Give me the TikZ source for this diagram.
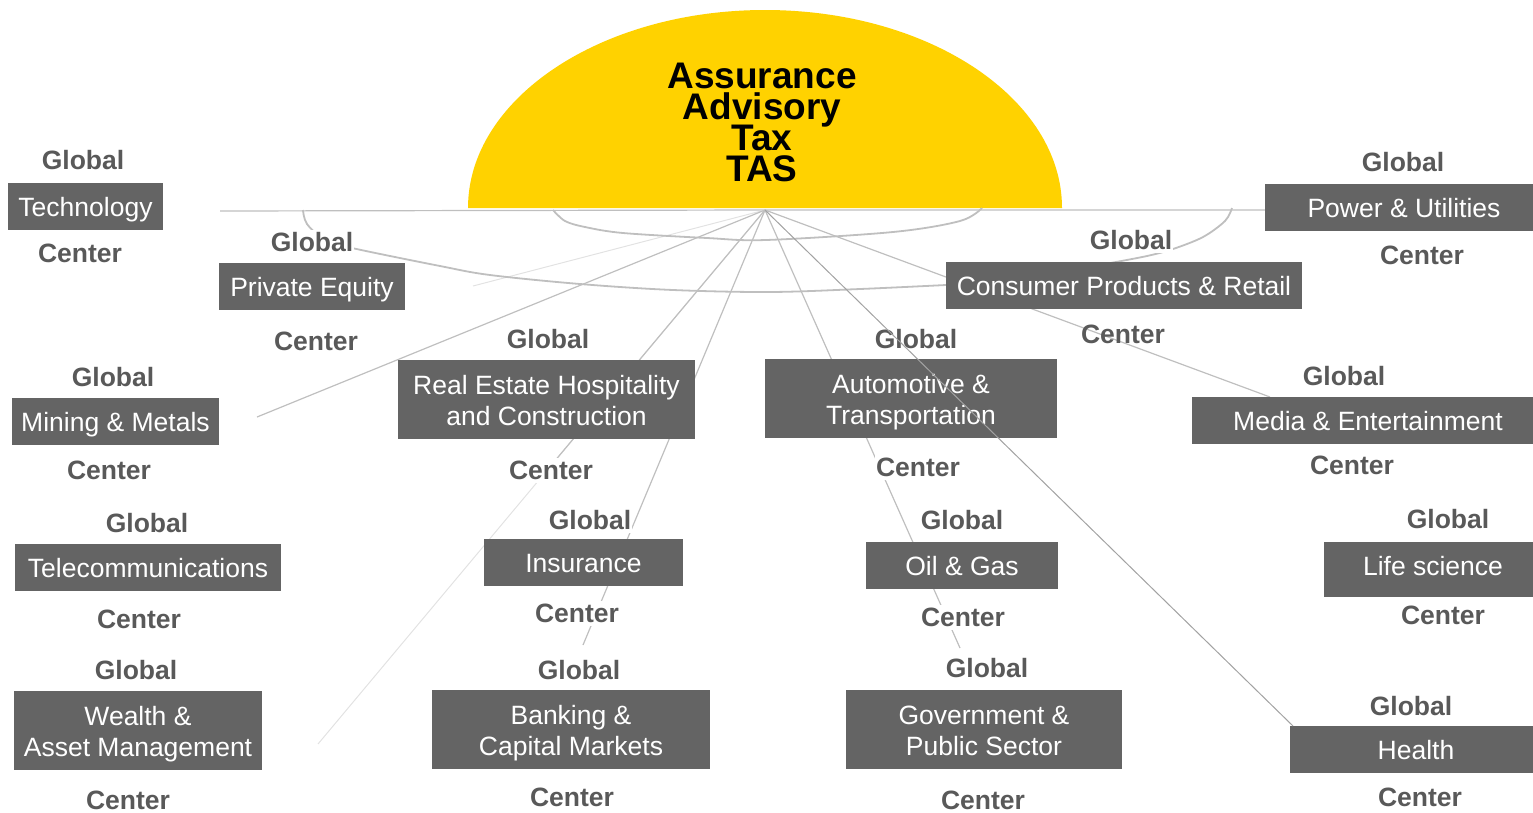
\documentclass[tikz,border=0pt]{standalone}
\usepackage{fontspec}
\setmainfont{Liberation Sans}
\definecolor{eyyellow}{HTML}{FFD200}
\definecolor{boxgray}{HTML}{646464}
\definecolor{lblgray}{HTML}{595959}
\definecolor{linegray}{HTML}{BFBFBF}
\definecolor{faintgray}{HTML}{E2E2E2}
\newcommand\fstrut{\vrule width 0pt height 28pt depth 1pt\relax}
\newcommand\lstrut{\vrule width 0pt height 20pt depth 8pt\relax}
\newcommand\hstrut{\vrule width 0pt height 24pt depth 7pt\relax}
\AtBeginDocument{\setlength{\lineskiplimit}{-50pt}}
\begin{document}
\begin{tikzpicture}[x=1pt,y=-1pt,
  boxbase/.style={fill=boxgray,text=white,font=\fontsize{26.5}{31}\selectfont,inner sep=0pt,minimum height=47pt},
  box/.style={boxbase,text height=24pt,text depth=5pt},
  tbox/.style={boxbase,align=center,minimum height=79pt},
  lbl/.style={text=lblgray,font=\fontsize{26.5}{31}\selectfont\bfseries,fill=white,inner sep=1pt,text height=21pt,text depth=2pt},
  conn/.style={draw=linegray,line width=1.2pt},
  faint/.style={draw=faintgray,line width=1pt},
  curvy/.style={draw=linegray,line width=1.8pt},
]
\useasboundingbox (0,0) rectangle (1533,812);

% central half ellipse
\fill[eyyellow] (468,208) arc[start angle=180,end angle=0,x radius=297pt,y radius=198pt] -- cycle;

% hub and free end points
\coordinate (hub) at (765,210);
\coordinate (hL) at (220,211);
\coordinate (hR) at (1265,210);
\coordinate (minEnd) at (257,417);
\coordinate (weaEnd) at (318,744);
\coordinate (weaMid) at (538,481);
\coordinate (banEnd) at (583,645);
\coordinate (govEnd) at (960,648);
\coordinate (medEnd) at (1270,397);
\coordinate (heaEnd) at (1293,726);
\coordinate (fEnd) at (473,286);
\coordinate (cpW) at (946,285);

% background connectors
\draw[conn] (hL) -- (hub) -- (hR);
\draw[faint] (hub) -- (fEnd);
\draw[conn] (hub) -- (minEnd);
\draw[faint] (hub) -- (weaEnd);
\draw[conn] (hub) -- (weaMid);
\draw[conn] (hub) -- (banEnd);
\draw[conn] (hub) -- (govEnd);
\draw[conn] (hub) -- (medEnd);
\draw[curvy] plot[smooth,tension=0.55] coordinates {(553,210) (565,221) (585,227) (623,233) (707,238) (766,240) (893,232) (960,221) (982,208)};
\draw[curvy] plot[smooth,tension=0.55] coordinates {(303,210) (307,224) (325,240) (352,248) (440,266) (490,275) (580,284) (673,290) (770,292) (860,289) (cpW)};
\draw[curvy] plot[smooth,tension=0.55] coordinates {(1232,208) (1225,221) (1203,237) (1173,249) (1147,256) (1105,264)};

% boxes
\node[box,minimum width=155pt] (tec) at (85.5,206.5) {Technology};
\node[box,minimum width=186pt] (pe) at (312,286.5) {Private Equity};
\node[box,minimum width=207pt] (min) at (115.5,421.5) {Mining \& Metals};
\node[box,minimum width=266pt] (tel) at (148,567.5) {Telecommunications};
\node[tbox,minimum width=248pt] (wea) at (138,730.5) {\fstrut Wealth \&\\\lstrut Asset Management};
\node[tbox,minimum width=297pt] (rea) at (546.5,399.5) {\fstrut Real Estate Hospitality\\\lstrut and Construction};
\node[box,minimum width=199pt] (ins) at (583.5,562.5) {Insurance};
\node[tbox,minimum width=278pt] (ban) at (571,729.5) {\fstrut Banking \&\\\lstrut Capital Markets};
\node[tbox,minimum width=292pt] (aut) at (911,398.5) {\fstrut Automotive \&\\\lstrut Transportation};
\node[box,minimum width=192pt] (oil) at (962,565.5) {Oil \& Gas};
\node[tbox,minimum width=276pt] (gov) at (984,729.5) {\fstrut Government \&\\\lstrut Public Sector};
\node[box,minimum width=356pt] (cp) at (1124,285.5) {Consumer Products \& Retail};
\node[box,minimum width=278pt] (pow) at (1404,207.5) {Power \& Utilities};
\node[box,minimum width=352pt] (med) at (1368,420.5) {Media \& Entertainment};
\node[box,minimum width=218pt,minimum height=55pt,text depth=12pt] (lif) at (1433,569.5) {Life science};
\node[box,minimum width=252pt] (hea) at (1416,749.5) {Health};

% Global / Center labels
\node[lbl] (tecG) at (83,160) {Global};
\node[lbl] (tecC) at (80,253) {Center};
\node[lbl] (peG) at (312,242) {Global};
\node[lbl] (peC) at (316,341) {Center};
\node[lbl] (minG) at (113,377) {Global};
\node[lbl] (minC) at (109,470) {Center};
\node[lbl] (telG) at (147,523) {Global};
\node[lbl] (telC) at (139,619) {Center};
\node[lbl] (weaG) at (136,670) {Global};
\node[lbl] (weaC) at (128,800) {Center};
\node[lbl] (reaG) at (548,339) {Global};
\node[lbl] (reaC) at (551,470) {Center};
\node[lbl] (insG) at (590,520) {Global};
\node[lbl] (insC) at (577,613) {Center};
\node[lbl] (banG) at (579,670) {Global};
\node[lbl] (banC) at (572,797) {Center};
\node[lbl] (autG) at (916,339) {Global};
\node[lbl] (autC) at (918,467) {Center};
\node[lbl] (oilG) at (962,520) {Global};
\node[lbl] (oilC) at (963,617) {Center};
\node[lbl] (govG) at (987,668) {Global};
\node[lbl] (govC) at (983,800) {Center};
\node[lbl] (cpG) at (1131,240) {Global};
\node[lbl,fill=none] (cpC) at (1123,334) {Center};
\node[lbl] (powG) at (1403,162) {Global};
\node[lbl] (powC) at (1422,255) {Center};
\node[lbl] (medG) at (1344,376) {Global};
\node[lbl] (medC) at (1352,465) {Center};
\node[lbl] (lifG) at (1448,519) {Global};
\node[lbl] (lifC) at (1443,615) {Center};
\node[lbl] (heaG) at (1411,706) {Global};
\node[lbl] (heaC) at (1420,797) {Center};

% connector drawn on top
\draw[draw=linegray!85!black,line width=1pt] (hub) -- (heaEnd);

% title
\node[font=\fontsize{37}{31}\selectfont\bfseries,align=center,inner sep=0pt] (title) at (762,125.5)
  {\hstrut Assurance\\\hstrut Advisory\\\hstrut Tax\\\hstrut TAS};
\end{tikzpicture}
\end{document}
